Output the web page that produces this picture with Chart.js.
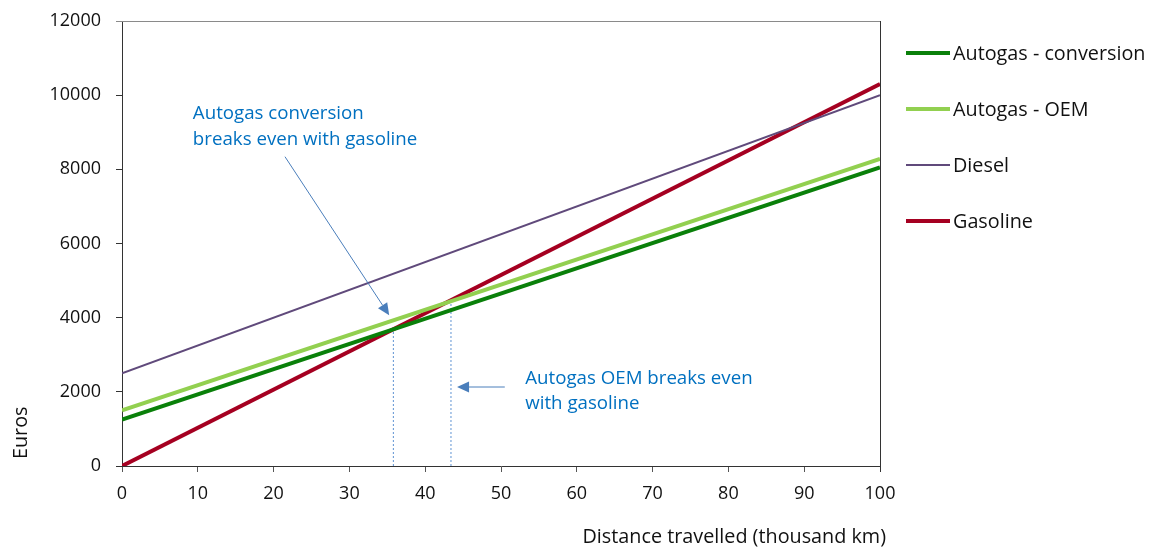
<!DOCTYPE html>
<html><head><meta charset="utf-8">
<script src="https://cdn.jsdelivr.net/npm/chart.js@4/dist/chart.umd.min.js"></script>
<style>html,body{margin:0;padding:0;background:#fff}#wrap{width:1153px;height:552px}</style>
</head><body><div id="wrap"><canvas id="c" width="1153" height="552"></canvas></div>
<script>
// ---- data ----
const distanceKm = [0, 100];
const autogasConversion = [1250, 8050];
const autogasOEM = [1500, 8280];
const diesel = [2500, 10000];
const gasoline = [0, 10300];
const seriesNames = ['Autogas - conversion', 'Autogas - OEM', 'Diesel', 'Gasoline'];
const breakEvenConversion = [35.8, 3680];   // [distance, euros]
const breakEvenOEM = [43.4, 4440];
const xTickValues = [0, 10, 20, 30, 40, 50, 60, 70, 80, 90, 100];
const yTickValues = [0, 2000, 4000, 6000, 8000, 10000, 12000];
const annotationTexts = [
  ['Autogas conversion', 'breaks even with gasoline'],
  ['Autogas OEM breaks even', 'with gasoline']
];
const xTitle = 'Distance travelled (thousand km)';
const yTitle = 'Euros';

// ---- styling ----
const FONT = '"Open Sans", "Liberation Sans", Arial, sans-serif';
const FS_TICK = 18, FS_TEXT = 19.8, FS_NOTE = 18.7;
const colors = ['#0A800A', '#92D050', '#604A7B', '#A50021'];
const widths = [4, 4, 2, 4];
const annColor = '#0070C0';
const arrowColor = '#4A7EBB';

const toPts = arr => distanceKm.map((d, i) => ({x: d, y: arr[i]}));
const seriesData = [autogasConversion, autogasOEM, diesel, gasoline];

const datasets = seriesData.map((arr, i) => ({
  label: seriesNames[i],
  data: toPts(arr),
  borderColor: colors[i],
  backgroundColor: colors[i],
  borderWidth: widths[i],
  pointRadius: 0,
  tension: 0,
  order: 1
}));
[breakEvenConversion, breakEvenOEM].forEach((p, i) => {
  datasets.push({
    label: 'breakeven' + i,
    data: [{x: p[0], y: 0}, {x: p[0], y: p[1]}],
    borderColor: '#5F93D3',
    borderWidth: 1,
    borderDash: [2, 2],
    pointRadius: 0,
    order: 2
  });
});

const borderPlugin = {
  id: 'plotBorder',
  beforeDatasetsDraw(chart) {
    const {ctx, chartArea: a} = chart;
    ctx.save();
    ctx.lineWidth = 1;
    ctx.strokeStyle = '#8A8A8A';
    ctx.beginPath(); ctx.moveTo(a.left - 6, a.top + 0.5); ctx.lineTo(a.right, a.top + 0.5); ctx.stroke();
    ctx.strokeStyle = '#333';
    ctx.beginPath(); ctx.moveTo(a.right + 0.5, a.top); ctx.lineTo(a.right + 0.5, a.bottom + 6); ctx.stroke();
    ctx.restore();
  }
};

function arrow(ctx, x1, y1, x2, y2) {
  const ang = Math.atan2(y2 - y1, x2 - x1);
  const L = 12, W = 5.5;
  const bx = x2 - L * Math.cos(ang), by = y2 - L * Math.sin(ang);
  ctx.beginPath(); ctx.moveTo(x1, y1); ctx.lineTo(bx, by); ctx.stroke();
  ctx.beginPath();
  ctx.moveTo(x2, y2);
  ctx.lineTo(bx + W * Math.sin(ang), by - W * Math.cos(ang));
  ctx.lineTo(bx - W * Math.sin(ang), by + W * Math.cos(ang));
  ctx.closePath(); ctx.fill();
}

// annotation anchors in data units
const annotations = [
  {text: annotationTexts[0], at: [9.35, 9351], lineGap: 26, arrowFrom: [21.5, 8341], arrowTo: [35.25, 4064]},
  {text: annotationTexts[1], at: [53.2, 2211], lineGap: 25, arrowFrom: [50.5, 2130], arrowTo: [44.2, 2130]}
];

const annotationPlugin = {
  id: 'notes',
  afterDatasetsDraw(chart) {
    const {ctx, scales: {x, y}} = chart;
    ctx.save();
    ctx.font = FS_NOTE + 'px ' + FONT;
    ctx.textBaseline = 'alphabetic';
    ctx.textAlign = 'left';
    annotations.forEach(a => {
      ctx.fillStyle = annColor;
      const px = x.getPixelForValue(a.at[0]), py = y.getPixelForValue(a.at[1]);
      a.text.forEach((t, i) => ctx.fillText(t, px, py + i * a.lineGap));
      ctx.strokeStyle = arrowColor; ctx.fillStyle = arrowColor; ctx.lineWidth = 1;
      arrow(ctx, x.getPixelForValue(a.arrowFrom[0]), y.getPixelForValue(a.arrowFrom[1]),
                 x.getPixelForValue(a.arrowTo[0]), y.getPixelForValue(a.arrowTo[1]));
    });
    ctx.restore();
  }
};

const titlesPlugin = {
  id: 'axisTitles',
  afterDraw(chart) {
    const {ctx, chartArea: a} = chart;
    ctx.save();
    ctx.font = FS_TEXT + 'px ' + FONT;
    ctx.fillStyle = '#111';
    ctx.textBaseline = 'alphabetic';
    ctx.textAlign = 'right';
    ctx.fillText(xTitle, a.right + 6, 543);
    ctx.translate(26.5, a.bottom - 7);
    ctx.rotate(-Math.PI / 2);
    ctx.textAlign = 'left';
    ctx.fillText(yTitle, 0, 0);
    ctx.restore();
  }
};

const legendPlugin = {
  id: 'sideLegend',
  afterDraw(chart) {
    const {ctx} = chart;
    const a = chart.chartArea;
    ctx.save();
    ctx.font = FS_TEXT + 'px ' + FONT;
    ctx.textBaseline = 'middle';
    ctx.textAlign = 'left';
    const x0 = a.right + 26, lineW = 44, y0 = 53, gap = 56;
    chart.data.datasets.slice(0, seriesNames.length).forEach((ds, i) => {
      const yy = y0 + i * gap;
      ctx.strokeStyle = ds.borderColor; ctx.lineWidth = ds.borderWidth;
      ctx.beginPath(); ctx.moveTo(x0, yy); ctx.lineTo(x0 + lineW, yy); ctx.stroke();
      ctx.fillStyle = '#111';
      ctx.fillText(ds.label, x0 + lineW + 3, yy + 1);
    });
    ctx.restore();
  }
};

Chart.defaults.font.family = FONT;
Chart.defaults.font.size = FS_TICK;
Chart.defaults.color = '#111';

new Chart(document.getElementById('c'), {
  type: 'line',
  data: {datasets},
  options: {
    responsive: false,
    animation: false,
    devicePixelRatio: 1,
    layout: {padding: {left: 0, right: 273, top: 21, bottom: 0}},
    plugins: {legend: {display: false}, tooltip: {enabled: false}},
    scales: {
      x: {
        type: 'linear', min: 0, max: 100,
        afterBuildTicks: s => { s.ticks = xTickValues.map(v => ({value: v})); },
        afterFit: s => { s.height = 86; s.paddingLeft = 0; s.paddingRight = 0; },
        ticks: {color: '#111', padding: 11, font: {size: FS_TICK}, maxRotation: 0, callback: v => String(v)},
        grid: {drawOnChartArea: false, drawTicks: true, tickLength: 6, color: '#555'},
        border: {display: true, color: '#333', width: 1},
        title: {display: false}
      },
      y: {
        type: 'linear', min: 0, max: 12000,
        afterBuildTicks: s => { s.ticks = yTickValues.map(v => ({value: v})); },
        afterFit: s => { s.width = 122; s.paddingTop = 0; s.paddingBottom = 0; },
        ticks: {color: '#111', padding: 15, font: {size: FS_TICK}, callback: v => String(v)},
        grid: {drawOnChartArea: false, drawTicks: true, tickLength: 6, color: '#333'},
        border: {display: true, color: '#333', width: 1},
        title: {display: false}
      }
    }
  },
  plugins: [borderPlugin, annotationPlugin, legendPlugin, titlesPlugin]
});
</script>
</body></html>
